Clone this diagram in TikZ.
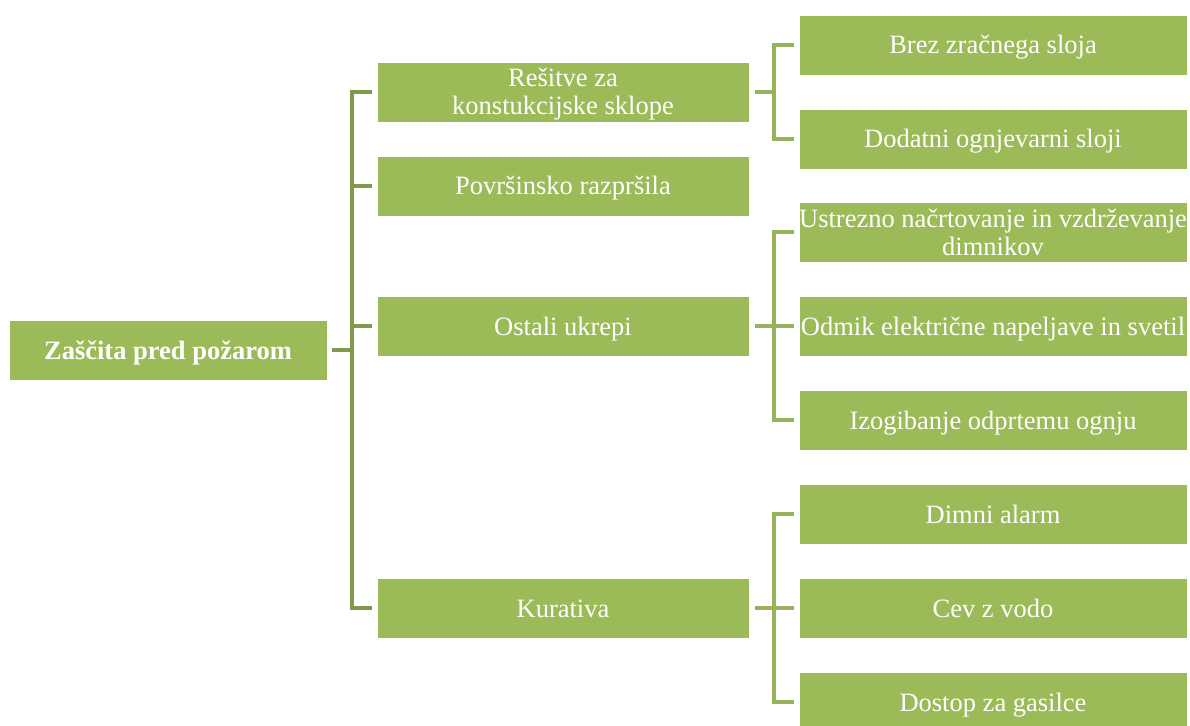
\documentclass[tikz,border=0pt]{standalone}
\usepackage{fontspec}
\setmainfont{Liberation Serif}
\definecolor{boxgreen}{HTML}{9BBB59}
\definecolor{linedark}{HTML}{7F9B4A}
\definecolor{linelight}{HTML}{95B35A}
\begin{document}
\begin{tikzpicture}[x=1bp,y=-1bp,
  box/.style={fill=boxgreen,draw=white,line width=0.6bp,inner sep=0pt,align=center,text=white,
    font=\fontsize{26.5bp}{28bp}\selectfont,text height=24bp,text depth=6bp},
  twoline/.style={text height=52bp,text depth=6bp},
  rootbox/.style={box,minimum width=318bp,minimum height=60bp,font=\fontsize{26.5bp}{28bp}\selectfont\bfseries},
  lvlone/.style={box,minimum width=372bp,minimum height=60bp},
  lvltwo/.style={box,minimum width=388bp,minimum height=60bp},
  connA/.style={draw=linedark,line width=4bp,line join=miter},
  connB/.style={draw=linelight,line width=4bp,line join=miter}]
\useasboundingbox (0,0) rectangle (1190,726);
\node[rootbox] (root) at (168,350) {Zaščita pred požarom};
\node[lvlone,twoline] (a1) at (563,92) {Rešitve za\\konstukcijske sklope};
\node[lvlone] (a2) at (563,186) {Površinsko razpršila};
\node[lvlone] (a3) at (563,326) {Ostali ukrepi};
\node[lvlone] (a4) at (563,608) {Kurativa};
\node[lvltwo] (b1) at (993,45) {Brez zračnega sloja};
\node[lvltwo] (b2) at (993,139) {Dodatni ognjevarni sloji};
\node[lvltwo,twoline] (b3) at (993,232) {Ustrezno načrtovanje in vzdrževanje\\dimnikov};
\node[lvltwo] (b4) at (993,326) {Odmik električne napeljave in svetil};
\node[lvltwo] (b5) at (993,420) {Izogibanje odprtemu ognju};
\node[lvltwo] (b6) at (993,514) {Dimni alarm};
\node[lvltwo] (b7) at (993,608) {Cev z vodo};
\node[lvltwo] (b8) at (993,702) {Dostop za gasilce};
\coordinate (t1) at (352,0);
\coordinate (t2) at (774,0);
% level one
\draw[connA] ([xshift=-5bp]a1.west) -- (a1.west -| t1) -- (a4.west -| t1) -- ([xshift=-5bp]a4.west);
\draw[connA] ([xshift=5bp]root.east) -- (root.east -| t1);
\draw[connA] (a2.west -| t1) -- ([xshift=-5bp]a2.west);
\draw[connA] (a3.west -| t1) -- ([xshift=-5bp]a3.west);
% level two: Resitve
\draw[connB] ([xshift=-5bp]b1.west) -- (b1.west -| t2) -- (b2.west -| t2) -- ([xshift=-5bp]b2.west);
\draw[connB] ([xshift=6bp]a1.east) -- (a1.east -| t2);
% Ostali
\draw[connB] ([xshift=-5bp]b3.west) -- (b3.west -| t2) -- (b5.west -| t2) -- ([xshift=-5bp]b5.west);
\draw[connB] ([xshift=6bp]a3.east) -- ([xshift=-5bp]b4.west);
% Kurativa
\draw[connB] ([xshift=-5bp]b6.west) -- (b6.west -| t2) -- (b8.west -| t2) -- ([xshift=-5bp]b8.west);
\draw[connB] ([xshift=6bp]a4.east) -- ([xshift=-5bp]b7.west);
\end{tikzpicture}
\end{document}
